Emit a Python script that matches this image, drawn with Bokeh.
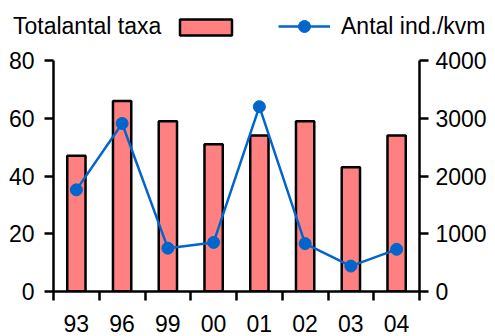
from bokeh.plotting import figure
from bokeh.models import Range1d, LinearAxis, FixedTicker, Legend, LegendItem
from bokeh.embed import file_html
from bokeh.resources import INLINE

years = ["93", "96", "99", "00", "01", "02", "03", "04"]
taxa = [47, 66, 59, 51, 54, 59, 43, 54]
density = [1760, 2910, 750, 850, 3200, 830, 440, 730]
left_ticks = [0, 20, 40, 60, 80]
right_ticks = [0, 1000, 2000, 3000, 4000]

FONT = "Liberation Sans"
FS = "23px"
BAR_FILL = "#FF8080"
LINE_COL = "#0066CC"

n = len(years)
centers = [i + 0.5 for i in range(n)]
bounds = list(range(n + 1))

# ---------------- main chart ----------------
p = figure(width=495, height=291, output_backend="svg", toolbar_location=None,
           x_range=Range1d(0, n), y_range=Range1d(0, left_ticks[-1]),
           min_border_left=53, min_border_right=76, min_border_top=15,
           min_border_bottom=45, outline_line_color=None,
           x_axis_location=None, y_axis_location=None)
p.extra_y_ranges = {"right": Range1d(0, right_ticks[-1])}
p.xgrid.grid_line_color = None
p.ygrid.grid_line_color = None

def style(ax):
    ax.axis_line_color = "black"
    ax.axis_line_width = 2.5
    ax.major_tick_line_color = "black"
    ax.major_tick_line_width = 2.5
    ax.major_tick_in = 0
    ax.major_tick_out = 9
    ax.minor_tick_line_color = None
    ax.major_label_text_font = FONT
    ax.major_label_text_font_size = FS
    ax.major_label_text_color = "black"

yl = LinearAxis(ticker=FixedTicker(ticks=left_ticks))
style(yl)
yl.major_label_standoff = 10
p.add_layout(yl, "left")

yr = LinearAxis(y_range_name="right", ticker=FixedTicker(ticks=right_ticks))
style(yr)
yr.major_label_standoff = 7
p.add_layout(yr, "right")

xa = LinearAxis(ticker=FixedTicker(ticks=centers, minor_ticks=bounds))
style(xa)
xa.major_tick_line_color = None
xa.minor_tick_line_color = "black"
xa.minor_tick_line_width = 2.5
xa.minor_tick_in = 0
xa.minor_tick_out = 9
xa.major_label_standoff = 14
xa.major_label_text_line_height = 0.8
xa.major_label_overrides = {c: y for c, y in zip(centers, years)}
p.add_layout(xa, "below")

p.vbar(x=centers, top=taxa, width=0.4, fill_color=BAR_FILL,
       line_color="black", line_width=2.5)
p.line(centers, density, y_range_name="right", line_color=LINE_COL, line_width=2.5)
p.scatter(centers, density, y_range_name="right", size=12,
          fill_color=LINE_COL, line_color=LINE_COL)

# ---------------- legend strip ----------------
lg = figure(width=495, height=45, output_backend="svg", toolbar_location=None,
            x_range=Range1d(0, n), y_range=Range1d(0, left_ticks[-1]),
            min_border_left=0, min_border_right=0, min_border_top=0,
            min_border_bottom=0, outline_line_color=None,
            x_axis_location=None, y_axis_location=None)
lg.xgrid.grid_line_color = None
lg.ygrid.grid_line_color = None
dummy = lg.line(centers, taxa, line_alpha=0, visible=False)
bar_proxy = lg.vbar(x=centers, top=taxa, width=0.4, fill_color=BAR_FILL,
                    line_color="black", line_width=2.5, visible=False)
line_proxy = lg.line(centers, taxa, line_color=LINE_COL, line_width=2.5, visible=False)
pt_proxy = lg.scatter(centers, taxa, size=12, fill_color=LINE_COL,
                      line_color=LINE_COL, visible=False)

common = dict(orientation="horizontal", label_standoff=11,
              padding=0, margin=0, label_text_font=FONT,
              label_text_font_size=FS, label_text_color="black",
              background_fill_alpha=0, border_line_alpha=0)

legend_a = Legend(items=[
    LegendItem(label="Totalantal taxa", renderers=[dummy]),
    LegendItem(label="", renderers=[bar_proxy]),
], location=(-63, 5), glyph_width=65, glyph_height=20, spacing=12,
    label_width=0, **common)
lg.add_layout(legend_a, "center")

legend_b = Legend(items=[
    LegendItem(label="Antal ind./kvm", renderers=[line_proxy, pt_proxy]),
], location=(278, 4), glyph_width=52, glyph_height=30, spacing=12, **common)
lg.add_layout(legend_b, "center")

open("out.html", "w").write(file_html([lg, p], INLINE))
